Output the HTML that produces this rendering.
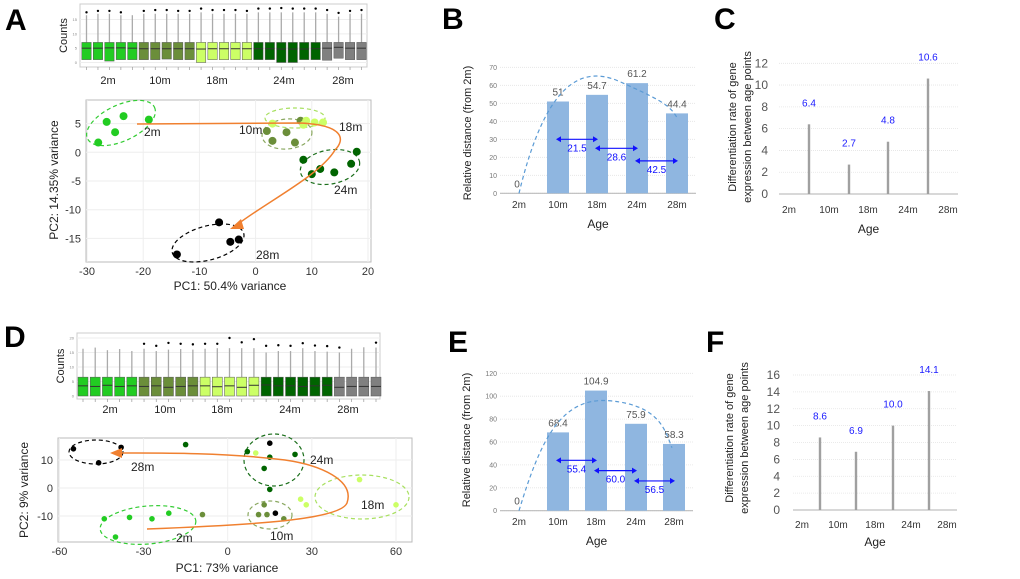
<!DOCTYPE html>
<html><head><meta charset="utf-8"><style>
html,body{margin:0;padding:0;background:#fff}
svg{display:block;font-family:"Liberation Sans",sans-serif}
</style></head><body>
<svg id="fig" width="1020" height="579" viewBox="0 0 1020 579" xmlns="http://www.w3.org/2000/svg">
<rect width="1020" height="579" fill="#fff"/>
<g id="root"></g>
</svg>
<script>
// ---------- DATA ----------
const ages = ["2m","10m","18m","24m","28m"];
const groupColors = ["#22cc22","#6b8e3a","#ccff66","#006400","#808080"];
const boxGroupA = [0,0,0,0,0,1,1,1,1,1,2,2,2,2,2,3,3,3,3,3,3,4,4,4,4];
const boxMedA = [5,5,5.1,5.1,5,4.8,4.8,4.8,4.8,4.8,4.7,4.8,4.8,4.8,4.8,4.8,4.8,4.7,4.7,4.7,4.8,5,5.3,5,5];
const boxQ1A = [1,1,0.5,1,1,1,1,1.2,1,1,0,1,1,1,1,1,1,0,0,1,1,0.8,1.5,1,1];
const boxQ3A = [7,7,7,7,7,7,7,7,7,7,7,7,7,7,7,7,7,7,7,7,7,7,7,7,7];
const boxTopA = [16.5,17,17,16.5,16.5,17,17,17,17,17,17.5,17,17,17,17,17.5,17.5,17.5,17.5,17.5,17.5,17,16,17,17];
const boxOutA = [17.5,18,18,17.5,0,18,18.3,18.3,18,18,18.8,18.3,18.3,18.3,18,18.8,18.8,19,18.8,18.8,18.8,18.3,17.3,18,18.3];
const boxGroupD = [0,0,0,0,0,1,1,1,1,1,2,2,2,2,2,3,3,3,3,3,3,4,4,4,4];
const boxMedD = [3.5,3.3,3.7,3.3,3.5,3.3,3.5,3,3.3,3.5,3.5,3.2,3.5,3,3.7,3.8,3.5,3.5,3.3,3.5,3.7,3,3.3,3.3,3.3];
const boxQ3D = [6.5,6.5,6.5,6.5,6.5,6.5,6.5,6.5,6.5,6.5,6.5,6.5,6.5,6.5,6.5,6.5,6.5,6.5,6.5,6.5,6.5,6.5,6.5,6.5,6.5];
const boxTopD = [16.3,16.7,15.8,16.2,15.5,16.3,15.5,16,16.2,16,16.3,16.5,16.5,16.5,16.5,15,15.5,15.5,16.5,15.5,15.3,15,16.3,16.8,16.7];
const boxOutD = [0,0,0,0,0,18,17.3,18.3,18,17.8,18,18,20,18.5,19.6,17.3,17.5,17.3,18.2,17.4,17.2,16.7,0,0,18.4];
const pcaAx = [-28,-26.5,-25,-23.5,-19, 2,3,5.5,7,8, 3,8.5,10.5,12,9, 8.5,10,11.5,14,17,18, -14,-6.5,-4.5,-3];
const pcaAy = [1.7,5.3,3.5,6.3,5.7, 3.7,2,3.5,1.7,5.5, 5,4.8,5.2,5.2,5.5, -1.3,-3.8,-2.9,-3.5,-2,0.1, -17.8,-12.2,-15.6,-15.2];
const pcaAg = [0,0,0,0,0, 1,1,1,1,1, 2,2,2,2,2, 3,3,3,3,3,3, 4,4,4,4];
const pcaDx = [-44,-35,-27,-21,-40, -9,11,13,14,20, 10,26,28,47,60, -15,7,13,15,24,15, -55,-46,-38,15,17];
const pcaDy = [-11,-10.5,-11,-9,-17.5, -9.5,-9.5,-6,-9.5,-11, 12.5,-4,-6,3,-6, 15.5,13,7,11,12,-0.5, 14,9,14.5,16,-9];
const pcaDg = [0,0,0,0,0, 1,1,1,1,1, 2,2,2,2,2, 3,3,3,3,3,3, 4,4,4,4,4];
const distB = [0,51,54.7,61.2,44.4];
const deltaB = [21.5,28.6,42.5];
const deltaBy = [30,25,18];
const distE = [0,68.4,104.9,75.9,58.3];
const deltaE = [55.4,60.0,56.5];
const deltaEy = [44,35,26];
const rateC = [6.4,2.7,4.8,10.6];
const rateF = [8.6,6.9,10.0,14.1];
const ticksB = [0,10,20,30,40,50,60,70];
const ticksE = [0,20,40,60,80,100,120];
const ticksC = [0,2,4,6,8,10,12];
const ticksF = [0,2,4,6,8,10,12,14,16];

// ---------- HELPERS ----------
const NS="http://www.w3.org/2000/svg";
const root=document.getElementById('root');
function mk(tag,attrs,parent,txt){const e=document.createElementNS(NS,tag);for(const k in attrs)e.setAttribute(k,attrs[k]);if(txt!==undefined)e.textContent=txt;(parent||root).appendChild(e);return e;}
function lin(d0,d1,r0,r1){return v=>r0+(v-d0)*(r1-r0)/(d1-d0);}

function panelLetter(t,x,y){const e=mk('text',{x:x,y:y,'font-size':30,'font-weight':'bold',fill:'#000'},root,t);

}

function boxplot(name,frame,x0,x1,yS,groups,q1,med,q3,top,out,ticks,labelXs,labelY){
  const g=mk('g',{});
  
  
  mk('rect',{x:frame[0],y:frame[1],width:frame[2]-frame[0],height:frame[3]-frame[1],fill:'#fff',stroke:'#ccc','stroke-width':1},g);
  ticks.forEach(t=>{mk('line',{x1:frame[0],x2:frame[2],y1:yS(t),y2:yS(t),stroke:'#eee'},g);
    const tl=mk('text',{x:frame[0]-3,y:yS(t)+1.5,'font-size':4,'text-anchor':'end',fill:'#888'},g,t);
    });
  const n=groups.length, step=(x1-x0)/(n-1), w=step*0.82;
  for(let i=0;i<n;i++){
    const cx=x0+i*step;
    mk('line',{x1:cx,x2:cx,y1:yS(top[i]),y2:yS(q3[i]),stroke:'#aaa','stroke-width':1.3},g);
    if(out[i]>0){const c=mk('circle',{cx:cx,cy:yS(out[i]),r:1.2,fill:'#000'},g);}
    const r=mk('rect',{x:cx-w/2,y:yS(q3[i]),width:w,height:yS(q1[i])-yS(q3[i]),fill:groupColors[groups[i]],stroke:'#555','stroke-width':0.5},g);
    
    
    mk('line',{x1:cx-w/2,x2:cx+w/2,y1:yS(med[i]),y2:yS(med[i]),stroke:'#333','stroke-width':1},g);
    mk('line',{x1:cx,x2:cx,y1:frame[3],y2:frame[3]+3,stroke:'#999','stroke-width':0.7},g);
  }
  ages.forEach((a,i)=>{const t=mk('text',{x:labelXs[i],y:labelY,'font-size':11,'text-anchor':'middle',fill:'#222'},g,a);
    });
  const ct=mk('text',{transform:`translate(${frame[0]-13},${(frame[1]+frame[3])/2}) rotate(-90)`,'font-size':11,'text-anchor':'middle',fill:'#222'},g,'Counts');
  
}

function pca(name,frame,xS,yS,xt,yt,px,py,pg,xlab,ylab,xlabPos,ylabPos,ellipses,labels,arrowPath,arrowHead,ptR){
  const g=mk('g',{});
  
  
  mk('rect',{x:frame[0],y:frame[1],width:frame[2]-frame[0],height:frame[3]-frame[1],fill:'#fff',stroke:'#bbb','stroke-width':1},g);
  xt.forEach(t=>{mk('line',{x1:xS(t),x2:xS(t),y1:frame[1],y2:frame[3],stroke:'#eee'},g);
    const l=mk('text',{x:xS(t),y:frame[3]+13,'font-size':11,'text-anchor':'middle',fill:'#333'},g,t);
    });
  yt.forEach(t=>{mk('line',{x1:frame[0],x2:frame[2],y1:yS(t),y2:yS(t),stroke:'#eee'},g);
    const l=mk('text',{x:frame[0]-5,y:yS(t)+4,'font-size':11,'text-anchor':'end',fill:'#333'},g,t);
    });
  ellipses.forEach(e=>{const el=mk('ellipse',{cx:e[0],cy:e[1],rx:e[2],ry:e[3],transform:`rotate(${e[4]} ${e[0]} ${e[1]})`,fill:'none',stroke:e[5],'stroke-width':1.2,'stroke-dasharray':'4,3'},g);
    });
  px.forEach((v,i)=>{const c=mk('circle',{cx:xS(v),cy:yS(py[i]),r:ptR,fill:pg[i]===4?'#000':groupColors[pg[i]]},g);
    });
  const ap=mk('path',{d:arrowPath,fill:'none',stroke:'#f08030','stroke-width':1.5},g);
  
  mk('polygon',{points:arrowHead,fill:'#f08030'},g);
  labels.forEach(l=>{const t=mk('text',{x:l[1],y:l[2],'font-size':12,fill:'#222'},g,l[0]);
    });
  const xl=mk('text',{x:xlabPos[0],y:xlabPos[1],'font-size':12,'text-anchor':'middle',fill:'#222'},g,xlab);
  
  const yl=mk('text',{transform:`translate(${ylabPos[0]},${ylabPos[1]}) rotate(-90)`,'font-size':12,'text-anchor':'middle',fill:'#222'},g,ylab);
  
}

function barPanel(name,catX,yS,ticks,vals,deltas,deltaY,x0,x1,yAxX,labelY,ageY,ylabX,ylabY,curve){
  const g=mk('g',{});
  
  
  ticks.forEach(t=>{mk('line',{x1:x0,x2:x1,y1:yS(t),y2:yS(t),stroke:'#e4e4e4','stroke-width':0.8,'stroke-dasharray':'1,1'},g);
    const l=mk('text',{x:yAxX,y:yS(t)+2.5,'font-size':7,'text-anchor':'end',fill:'#777'},g,t);
    });
  mk('line',{x1:x0,x2:x1,y1:yS(0),y2:yS(0),stroke:'#bbb','stroke-width':1.2},g);
  vals.forEach((v,i)=>{
    if(v>0){const r=mk('rect',{x:catX[i]-11,y:yS(v),width:22,height:yS(0)-yS(v),fill:'#8fb6e0'},g);
      }
    const t=mk('text',{x:catX[i]+(i===0?-2:0),y:yS(v)-6,'font-size':10,'text-anchor':'middle',fill:'#555'},g,v);
    
    const xl=mk('text',{x:catX[i],y:labelY,'font-size':10,'text-anchor':'middle',fill:'#333'},g,ages[i]);
    
  });
  const c=mk('path',{d:curve,fill:'none',stroke:'#5b9bd5','stroke-width':1.2,'stroke-dasharray':'4,3'},g);
  
  deltas.forEach((d,i)=>{
    const xa=catX[i+1]-2, xb=catX[i+2]+1, y=yS(deltaY[i]);
    const ln=mk('line',{x1:xa+4,x2:xb-4,y1:y,y2:y,stroke:'#1010ff','stroke-width':1.2},g);
    
    mk('polygon',{points:`${xa},${y} ${xa+5},${y-3} ${xa+5},${y+3}`,fill:'#1010ff'},g);
    mk('polygon',{points:`${xb},${y} ${xb-5},${y-3} ${xb-5},${y+3}`,fill:'#1010ff'},g);
    const t=mk('text',{x:(xa+xb)/2,y:y+12,'font-size':10,'text-anchor':'middle',fill:'#1010ff'},g,d.toFixed(1));
    
  });
  const a=mk('text',{x:(x0+x1)/2,y:ageY,'font-size':12,'text-anchor':'middle',fill:'#222'},g,'Age');
  
  const yl=mk('text',{transform:`translate(${ylabX},${ylabY}) rotate(-90)`,'font-size':11,'text-anchor':'middle',fill:'#222'},g,'Relative distance (from 2m)');
  
}

function ratePanel(name,catX,barX,yS,ticks,vals,x0,x1,yAxX,labelY,ageY,ylab1X,ylab2X,ylabY){
  const g=mk('g',{});
  
  
  ticks.forEach(t=>{mk('line',{x1:x0,x2:x1,y1:yS(t),y2:yS(t),stroke:'#e4e4e4','stroke-width':0.8,'stroke-dasharray':'1,1'},g);
    const l=mk('text',{x:yAxX,y:yS(t)+4,'font-size':12,'text-anchor':'end',fill:'#555'},g,t);
    });
  mk('line',{x1:x0,x2:x1,y1:yS(0),y2:yS(0),stroke:'#ccc','stroke-width':1.5},g);
  vals.forEach((v,i)=>{
    const r=mk('rect',{x:barX[i]-1.2,y:yS(v),width:2.4,height:yS(0)-yS(v),fill:'#a0a0a0'},g);
    
    const t=mk('text',{x:barX[i],y:yS(v)-18,'font-size':10,'text-anchor':'middle',fill:'#1a1aff'},g,v.toFixed(1));
    
  });
  ages.forEach((a,i)=>{const t=mk('text',{x:catX[i],y:labelY,'font-size':10,'text-anchor':'middle',fill:'#333'},g,a);
    });
  const a=mk('text',{x:(x0+x1)/2,y:ageY,'font-size':12,'text-anchor':'middle',fill:'#222'},g,'Age');
  
  const y1=mk('text',{transform:`translate(${ylab1X},${ylabY}) rotate(-90)`,'font-size':11,'text-anchor':'middle',fill:'#222'},g,'Differentiation rate of gene');
  
  const y2=mk('text',{transform:`translate(${ylab2X},${ylabY}) rotate(-90)`,'font-size':11,'text-anchor':'middle',fill:'#222'},g,'expression between age points');
  
}

// ---------- BUILD ----------
panelLetter('A',5,30);
boxplot('boxplot-a',[80,4,367,67],86.5,361.5,lin(0,15,62.5,19.5),boxGroupA,boxQ1A,boxMedA,boxQ3A,boxTopA,boxOutA,[0,5,10,15],[108,160,217,284,343],84);
const axA=lin(-30,20,87,368), ayA=lin(0,5,152.3,123.6);
pca('pca-a',[86,100,371,262],axA,ayA,[-30,-20,-10,0,10,20],[5,0,-5,-10,-15],pcaAx,pcaAy,pcaAg,
 'PC1: 50.4% variance','PC2: 14.35% variance',[230,290],[58,180],
 [[121,123,37,18,-25,'#33cc33'],[287,134,25,15,-5,'#8aa860'],[295,118,30,10,0,'#a8e060'],[330,167,30,17,-10,'#1a6e1a'],[208,243,37,17,-15,'#000']],
 [['2m',144,136],['10m',239,134],['18m',339,131],['24m',334,194],['28m',256,259]],
 'M137,124 L300,123 C345,125 345,140 335,150 C320,175 270,200 238,224','230,229 241,219 244,229',4);
panelLetter('B',442,29);
const bx=[519,558,597,637,677];
const ybB=lin(0,70,193.3,67.3);
barPanel('bar-chart-b',bx,ybB,ticksB,distB,deltaB,deltaBy,500,696,497,208,228,471,133,
 `M519,${ybB(0)} C545,${ybB(60)} 580,${ybB(72)} 620,${ybB(62)} S670,${ybB(49)} 677,${ybB(42)}`);
panelLetter('C',714,29);
ratePanel('rate-chart-c',[789,829,868,908,948],[809,849,888,928],lin(0,12,194,63.3),ticksC,rateC,779,958,768,213,233,736,751,127);

panelLetter('D',4,347);
boxplot('boxplot-d',[77,333,380,399],83,376,lin(0,20,396,338),boxGroupD,boxGroupD.map(()=>0),boxMedD,boxQ3D,boxTopD,boxOutD,[0,5,10,15,20],[110,165,222,290,348],413);
const axD=lin(0,60,227.7,396), ayD=lin(0,10,488,460);
pca('pca-d',[58,438,412,542],axD,ayD,[-60,-30,0,30,60],[10,0,-10],pcaDx,pcaDy,pcaDg,
 'PC1: 73% variance','PC2: 9% variance',[227,572],[28,490],
 [[96,452,27,12,0,'#000'],[274,460,30,26,0,'#1a6e1a'],[362,497,47,22,0,'#a8e060'],[270,515,22,14,0,'#8aa860'],[148,525,48,19,-5,'#33cc33']],
 [['28m',131,471],['24m',310,464],['18m',361,509],['10m',270,540],['2m',176,542]],
 'M147,529 C250,525 340,520 347,503 C355,480 320,465 285,460 C220,452 150,453 117,453','110,453 122,448 122,458',2.8);
panelLetter('E',448,352);
const ex=[519,558,596,636,674];
const ybE=lin(0,120,510.7,373.3);
barPanel('bar-chart-e',ex,ybE,ticksE,distE,deltaE,deltaEy,500,693,497,525,545,470,440,
 `M519,${ybE(0)} C540,${ybE(60)} 560,${ybE(100)} 610,${ybE(96)} S665,${ybE(70)} 672,${ybE(55)}`);
panelLetter('F',706,352);
ratePanel('rate-chart-f',[802,838,875,911,947],[820,856,893,929],lin(0,16,510,375),ticksF,rateF,793,957,780,528,546,733,748,438);
</script>
</body></html>
